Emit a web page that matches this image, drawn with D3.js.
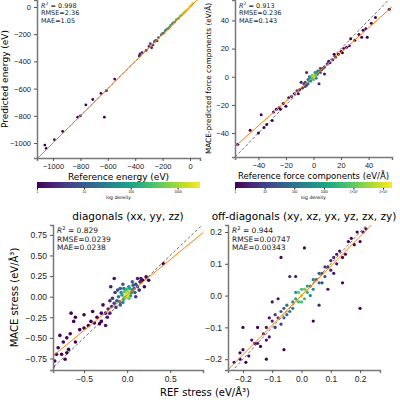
<!DOCTYPE html>
<html><head><meta charset="utf-8">
<script src="https://cdn.jsdelivr.net/npm/d3@7"></script>
<style>body{margin:0;background:#fff}svg{font-family:"DejaVu Sans",sans-serif}</style>
</head><body><svg id="c" width="400" height="400"></svg>
<script>
// [ref, pred, density 0..1]
const energyPts = [[-1060,-1015,0],[-1050,-1040,0],[-990,-975,0.05],[-930,-915,0],[-820,-810,0],[-800,-800,0.05],
  [-760,-720,0],[-710,-680,0],[-650,-635,0],[-625,-810,0],[-610,-615,0.05],[-550,-530,0],[-370,-360,0.05],
  [-365,-345,0.1],[-350,-335,0.1],[-320,-320,0.15],[-300,-290,0.15],[-290,-270,0.2],[-280,-300,0.1],
  [-270,-280,0.2],[-260,-255,0.25],[-250,-245,0.25],[-240,-250,0.3],[-230,-225,0.3],[-210,-205,0.35],
  [-200,-195,0.35],[-190,-190,0.4],[-180,-175,0.4],[-170,-165,0.45],[-160,-160,0.5],[-150,-150,0.5],
  [-140,-135,0.55],[-130,-125,0.55],[-120,-115,0.6],[-110,-110,0.6],[-100,-95,0.65],[-90,-88,0.7],
  [-80,-80,0.7],[-70,-65,0.75],[-60,-60,0.8],[-50,-48,0.85],[-40,-40,0.85],[-30,-28,0.9],[-20,-20,0.95],
  [-10,-10,1],[0,5,0.95],[10,10,0.9],[20,25,0.85]];
const forcePts = [[-55,-48,0],[-40,-40,0],[-38,-27,0],[-36,-36,0],[-34,-34,0],[-30,-31,0],[-27,-23,0],[-25,-22,0],
  [-22,-19,0],[-20,-21,0],[-18,-15,0],[-16,-14,0.05],[-14,-12,0.05],[-12,-10,0.05],[-10,-9,0.1],[-8,-8,0.15],
  [-7,-5,0.2],[-6,-4,0.2],[-5,-6,0.25],[-4,-2,0.35],[-3,-3,0.45],[-2,-1,0.55],[-1,-1,0.7],[-1,1,0.75],
  [0,0,0.95],[0,-2,0.7],[1,1,0.8],[2,1,0.6],[2,3,0.5],[3,2,0.45],[4,4,0.35],[5,3,0.3],[6,5,0.25],[7,6,0.2],
  [8,7,0.15],[10,9,0.1],[12,10,0.1],[14,12,0.05],[16,14,0.05],[18,16,0],[20,18,0],[22,20,0],[24,21,0],[26,22,0],
  [27,27,0],[30,26,0],[33,30,0],[36,33,0],[38,34,0],[39,28,0],[42,38,0],[55,48,0],[-5,3,0.1],[4,-5,0.1],[-9,-4,0.05],[8,2,0.05],
  [-4,-5,0.3],[-3,0,0.4],[-2,-3,0.5],[1,3,0.55],[3,4,0.4],[2,-1,0.5],[5,6,0.25],[-6,-7,0.2],[-11,-12,0.05],[11,11,0.05],
  [-24,-23,0],[-29,-25,0],[15,16,0],[21,17,0],[-46,-38,0],[35,28,0],[45,42,0]];
const diagPts = [[-0.86,-0.85,0],[-0.84,-0.78,0],[-0.8,-0.62,0],[-0.78,-0.47,0],[-0.76,-0.7,0],[-0.74,-0.55,0],[-0.72,-0.76,0],
  [-0.7,-0.5,0],[-0.68,-0.64,0],[-0.65,-0.2,0],[-0.6,-0.55,0],[-0.6,-0.25,0],[-0.55,-0.4,0],[-0.5,-0.38,0],[-0.5,-0.22,0],
  [-0.45,-0.35,0],[-0.42,-0.3,0],[-0.4,-0.18,0],[-0.35,-0.25,0],[-0.32,-0.33,0],[-0.3,-0.2,0],[-0.28,-0.1,0],[-0.25,-0.2,0.05],
  [-0.22,-0.15,0.1],[-0.2,-0.05,0.1],[-0.18,-0.12,0.15],[-0.15,-0.08,0.2],[-0.14,0.05,0.15],[-0.12,-0.05,0.3],[-0.1,0.0,0.4],
  [-0.08,-0.1,0.3],[-0.08,0.1,0.3],[-0.06,0.02,0.55],[-0.05,0.15,0.3],[-0.04,-0.03,0.6],[-0.03,0.06,0.7],[-0.02,0.0,0.8],
  [-0.01,0.04,0.9],[0.0,0.02,1],[0.01,0.06,0.85],[0.02,-0.02,0.75],[0.03,0.1,0.6],[0.05,0.05,0.55],[0.06,0.18,0.3],
  [0.08,0.1,0.35],[0.1,0.15,0.2],[0.1,0.0,0.15],[0.12,0.22,0.1],[0.15,0.18,0.05],[0.18,0.2,0],[0.2,0.12,0],[0.22,0.24,0],
  [0.25,0.2,0],[0.42,0.4,0],[-0.15,0.22,0.05],[-0.25,-0.35,0.05],
  [-0.2,-0.2,0.1],[-0.17,-0.02,0.15],[-0.13,-0.13,0.2],[-0.11,0.08,0.25],[-0.09,-0.06,0.4],[-0.07,0.05,0.5],[-0.05,-0.07,0.45],
  [-0.04,0.1,0.45],[-0.03,-0.01,0.75],[-0.01,0.09,0.65],[0.01,0.0,0.85],[0.02,0.12,0.5],[0.04,0.01,0.6],[0.06,0.08,0.45],
  [0.07,0.14,0.3],[0.09,0.05,0.3],[0.12,0.12,0.2],[0.14,0.08,0.1],[0.16,0.22,0.05],[-0.19,0.12,0.05],[-0.23,-0.25,0.05],
  [-0.3,-0.3,0],[-0.38,-0.32,0],[-0.7,-0.68,0],[-0.82,-0.7,0],[-0.66,-0.45,0],[-0.62,-0.3,0]];
const offPts = [[-0.23,-0.21,0],[-0.21,-0.2,0],[-0.2,-0.17,0],[-0.18,-0.19,0],[-0.16,-0.15,0],[-0.15,-0.1,0],[-0.14,-0.16,0],
  [-0.13,-0.12,0.05],[-0.12,-0.1,0.05],[-0.11,-0.13,0.05],[-0.1,-0.08,0.1],[-0.1,-0.02,0.05],[-0.09,-0.1,0.15],[-0.08,-0.07,0.2],
  [-0.07,-0.05,0.25],[-0.06,-0.07,0.3],[-0.05,-0.03,0.35],[-0.04,-0.05,0.4],[-0.03,-0.02,0.5],[-0.02,-0.01,0.6],[-0.01,-0.02,0.7],
  [-0.01,0.01,0.75],[0,0,0.9],[0.01,0.02,0.75],[0.01,-0.01,0.7],[0.02,0.01,0.65],[0.03,0.03,0.5],[0.04,0.02,0.45],[0.05,0.05,0.35],
  [0.06,0.04,0.3],[0.07,0.07,0.25],[0.08,0.06,0.2],[0.09,0.09,0.15],[0.1,0.08,0.1],[0.11,0.12,0.1],[0.12,0.1,0.05],
  [0.13,0.14,0.05],[0.15,0.13,0],[0.16,0.17,0],[0.18,0.16,0],[0.19,0.2,0],[0.2,0.17,0],[0.22,0.21,0],[-0.02,0.06,0.05],
  [-0.07,0.12,0],[0.2,-0.04,0],[0.04,-0.08,0],[-0.06,-0.17,0],[-0.2,-0.1,0],[0.01,0.15,0],[-0.04,0.06,0.1],[0.06,-0.03,0.1],
  [-0.12,-0.2,0],[0.14,0.04,0],
  [-0.19,-0.21,0],[-0.17,-0.14,0.05],[-0.15,-0.15,0.05],[-0.12,-0.14,0.05],[-0.09,-0.06,0.15],[-0.07,-0.09,0.2],[-0.06,-0.04,0.3],
  [-0.05,-0.06,0.35],[-0.03,-0.04,0.45],[-0.02,0.01,0.55],[0,-0.02,0.7],[0,0.02,0.7],[0.02,0.03,0.55],[0.03,0,0.45],[0.04,0.05,0.4],
  [0.06,0.07,0.3],[0.07,0.04,0.2],[0.08,0.09,0.15],[0.1,0.11,0.1],[0.12,0.13,0.05],[0.14,0.12,0],[0.17,0.18,0],[0.21,0.2,0],
  [-0.21,-0.18,0],[0.09,0.02,0.05],[-0.08,-0.01,0.05],[0.11,0.07,0.05],[-0.11,-0.07,0.05]];

const energyTicks = [-1000,-800,-600,-400,-200,0];
const forceTicks = [-40,-20,0,20,40];
const diagTicksX = [-0.5,0,0.5];
const diagTicksY = [-0.75,-0.5,-0.25,0,0.25,0.5,0.75];
const offTicks = [-0.2,-0.1,0,0.1,0.2];
const cb1Ticks = [1,10,100,1000];
const cb1Labels = ["1","10","100","1000"];
const cb2Ticks = [1,10,100,1000,1e4,1e5];
const cb2Labels = ["1","10","100","1000","1×10⁴","1×10⁵"];

const svg = d3.select("#c");

function panel(o) {
  const x = d3.scaleLinear().domain(o.xd).range([o.l, o.r]);
  const y = d3.scaleLinear().domain(o.yd).range([o.b, o.t]);
  const g = svg.append("g");
  const clipId = "clip" + o.id;
  g.append("clipPath").attr("id", clipId).append("rect")
    .attr("x", o.l).attr("y", o.t).attr("width", o.r - o.l).attr("height", o.b - o.t);
  const inner = g.append("g").attr("clip-path", `url(#${clipId})`);
  const lo = Math.min(o.xd[0], o.yd[0]), hi = Math.max(o.xd[1], o.yd[1]);
  inner.append("line").attr("x1", x(lo)).attr("y1", y(lo)).attr("x2", x(hi)).attr("y2", y(hi))
    .attr("stroke", "#333").attr("stroke-width", 0.7).attr("stroke-dasharray", "3,2");
  inner.selectAll("circle").data(o.pts.slice().sort((a, b) => a[2] - b[2])).join("circle")
    .attr("cx", d => x(d[0])).attr("cy", d => y(d[1])).attr("r", o.rad)
    .attr("fill", d => d3.interpolateViridis(d[2]));
  inner.append("line").attr("x1", x(o.xd[0])).attr("y1", y(o.fit[0] + o.fit[1] * o.xd[0]))
    .attr("x2", x(o.xd[1])).attr("y2", y(o.fit[0] + o.fit[1] * o.xd[1]))
    .attr("stroke", "#ff7f0e").attr("stroke-width", 1);
  const fs = o.fs;
  const ax = g.append("g").attr("transform", `translate(0,${o.b})`)
    .call(d3.axisBottom(x).tickValues(o.xt).tickSize(3).tickFormat(o.xf));
  const ay = g.append("g").attr("transform", `translate(${o.l},0)`)
    .call(d3.axisLeft(y).tickValues(o.yt).tickSize(3).tickFormat(o.yf));
  [ax, ay].forEach(a => {
    a.selectAll("text").attr("font-size", fs).attr("fill", "#222");
    a.select(".domain").attr("stroke", "#777").attr("stroke-width", 1.5);
    a.selectAll(".tick line").attr("stroke", "#555");
  });
  if (o.xl) g.append("text").attr("x", (o.l + o.r) / 2).attr("y", o.b + 22).attr("text-anchor", "middle")
    .attr("font-size", o.lfs).text(o.xl);
  if (o.yl) g.append("text").attr("transform", `translate(${o.ylx},${(o.t + o.b) / 2}) rotate(-90)`)
    .attr("text-anchor", "middle").attr("font-size", o.ylfs || o.lfs).text(o.yl);
  const st = g.append("g").attr("font-size", o.sfs).attr("fill", "#222");
  o.stats.forEach((s, i) => {
    const t = st.append("text").attr("x", o.l + 4).attr("y", o.t + 8 + i * o.sfs * 1.15);
    if (i === 0) {
      t.append("tspan").attr("font-style", "italic").text("R");
      t.append("tspan").attr("dy", -3).attr("font-size", o.sfs * 0.7).text("2");
      t.append("tspan").attr("dy", 3).text(" = " + s);
    } else t.text(s);
  });
  if (o.title) g.append("text").attr("x", (o.l + o.r) / 2).attr("y", o.t - 5)
    .attr("text-anchor", "middle").attr("font-size", 10.5).text(o.title);
}

function colorbar(l, r, top, maxv, ticks, labels, id) {
  const c = d3.scaleLog().domain([1, maxv]).range([l, r]);
  const grad = svg.append("defs").append("linearGradient").attr("id", id);
  d3.range(0, 1.01, 0.1).forEach(t => grad.append("stop").attr("offset", t).attr("stop-color", d3.interpolateViridis(t)));
  svg.append("rect").attr("x", l).attr("y", top).attr("width", r - l).attr("height", 6).attr("fill", `url(#${id})`);
  const a = svg.append("g").attr("transform", `translate(0,${top + 6})`)
    .call(d3.axisBottom(c).tickValues(ticks).tickSize(1.5).tickFormat((d, i) => labels[i]));
  a.select(".domain").remove();
  a.selectAll("text").attr("font-size", 3.2).attr("dy", "0.3em");
  svg.append("text").attr("x", (l + r) / 2).attr("y", top + 17).attr("text-anchor", "middle")
    .attr("font-size", 4.5).text("log density");
}

const f2 = d => d3.format(".2f")(d);
panel({id:1, l:37, r:200, t:0, b:158, xd:[-1117,73], yd:[-1110,51], pts:energyPts, rad:1.4, fit:[0,1.0],
  xt:energyTicks, yt:energyTicks, xf:d3.format("d"), yf:d3.format("d"), fs:7.5, lfs:9, sfs:6.5,
  xl:"Reference energy (eV)", yl:"Predicted energy (eV)", ylx:8, stats:["0.998","RMSE=2.36","MAE=1.05"]});
panel({id:2, l:235, r:392, t:0, b:157, xd:[-57,57], yd:[-57,54.5], pts:forcePts, rad:1.5, fit:[0,0.87],
  xt:forceTicks, yt:forceTicks, xf:d3.format("d"), yf:d3.format("d"), fs:7.5, lfs:8.5, ylfs:7.3, sfs:6.5,
  xl:"Reference force components (eV/Å)", yl:"MACE-predicted force components (eV/Å)", ylx:211, stats:["0.913","RMSE=0.236","MAE=0.143"]});
panel({id:3, l:53, r:203, t:225, b:370, xd:[-0.86,0.88], yd:[-0.89,0.87], pts:diagPts, rad:1.8, fit:[0.02,0.86],
  xt:diagTicksX, yt:diagTicksY, xf:d3.format(".1f"), yf:f2, fs:8.5, lfs:10, sfs:7.5,
  xl:"", yl:"MACE stress (eV/Å³)", ylx:18, title:"diagonals (xx, yy, zz)", stats:["0.829","RMSE=0.0239","MAE=0.0238"]});
panel({id:4, l:228, r:380, t:225, b:370, xd:[-0.251,0.268], yd:[-0.234,0.222], pts:offPts, rad:1.6, fit:[0,0.93],
  xt:offTicks, yt:offTicks, xf:d3.format(".1f"), yf:d3.format(".1f"), fs:8.5, lfs:10, sfs:7.5,
  xl:"", title:"off-diagonals (xy, xz, yx, yz, zx, zy)", stats:["0.944","RMSE=0.00747","MAE=0.00343"]});
svg.append("text").attr("x", 205).attr("y", 396).attr("text-anchor", "middle").attr("font-size", 10)
  .text("REF stress (eV/Å³)");
colorbar(37, 200, 182, 3000, cb1Ticks, cb1Labels, "g1");
colorbar(235, 392, 182, 2e5, cb2Ticks, cb2Labels, "g2");
</script></body></html>
